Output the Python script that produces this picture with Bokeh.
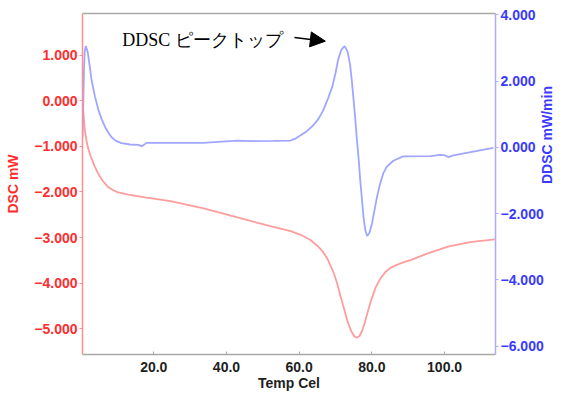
import math
from bokeh.plotting import figure
from bokeh.models import Range1d, LinearAxis, FixedTicker, Arrow, NormalHead
from bokeh.core.properties import value
from bokeh.embed import file_html
from bokeh.resources import INLINE

# ---------------- data ----------------
temp_dsc = [0.4, 0.7, 1.0, 1.5, 2.0, 2.8, 3.7, 4.7, 6.0, 7.4, 9.0, 10.2, 13.0, 17.6,
            24.6, 33.7, 43.0, 52.1, 57.7, 60.4, 63.0, 65.0, 66.5, 67.8, 69.6, 70.5,
            71.4, 72.4, 73.3, 74.3, 75.1, 75.8, 76.6, 77.3, 77.9, 78.8, 79.7, 81.0,
            82.5, 83.8, 85.2, 88.0, 90.8, 95.0, 100.9, 107.0, 113.8]
dsc_mw = [0.00, -0.30, -0.62, -0.88, -1.06, -1.25, -1.43, -1.60, -1.76, -1.89, -1.97,
          -2.01, -2.06, -2.12, -2.20, -2.36, -2.56, -2.75, -2.86, -2.94, -3.05, -3.18,
          -3.31, -3.47, -3.80, -4.02, -4.30, -4.58, -4.84, -5.05, -5.16, -5.20, -5.16,
          -5.05, -4.90, -4.65, -4.40, -4.10, -3.88, -3.75, -3.66, -3.56, -3.49, -3.36,
          -3.20, -3.10, -3.04]

temp_ddsc = [0.4, 0.6, 0.8, 1.0, 1.3, 1.8, 2.4, 2.9, 3.8, 4.8, 5.7, 6.6, 7.5, 8.4, 9.6,
             11.1, 13.5, 15.8, 16.6, 17.2, 18.0, 26.8, 33.6, 43.0, 47.4, 53.0, 57.6,
             59.0, 60.3, 62.2, 63.9, 65.4, 66.6, 68.0, 69.1, 70.0, 70.7, 71.6, 72.5,
             73.3, 74.0, 74.5, 74.9, 75.4, 75.9, 76.4, 76.8, 77.3, 77.7, 78.2, 78.7,
             79.3, 80.0, 80.7, 81.4, 82.2, 83.1, 84.1, 85.9, 88.6, 96.1, 98.8, 100.2,
             101.0, 102.4, 113.4]
ddsc_mw_min = [0.30, 1.20, 2.30, 2.90, 3.06, 2.90, 2.45, 2.03, 1.55, 1.12, 0.85, 0.62,
               0.45, 0.31, 0.20, 0.13, 0.09, 0.08, 0.04, 0.07, 0.14, 0.14, 0.14, 0.21,
               0.19, 0.20, 0.21, 0.27, 0.36, 0.50, 0.67, 0.88, 1.12, 1.50, 1.83, 2.25,
               2.64, 2.95, 3.06, 2.90, 2.50, 2.00, 1.52, 0.90, 0.21, -0.40, -1.00, -1.60,
               -2.11, -2.50, -2.67, -2.58, -2.31, -1.90, -1.50, -1.12, -0.79, -0.58,
               -0.40, -0.27, -0.26, -0.22, -0.24, -0.29, -0.24, -0.01]

x_ticks = [20, 40, 60, 80, 100]
x_tick_labels = ["20.0", "40.0", "60.0", "80.0", "100.0"]
dsc_ticks = [1, 0, -1, -2, -3, -4, -5]
dsc_tick_labels = ["1.000", "0.000", "\u22121.000", "\u22122.000", "\u22123.000",
                   "\u22124.000", "\u22125.000"]
ddsc_ticks = [4, 2, 0, -2, -4, -6]
ddsc_tick_labels = ["4.000", "2.000", "0.000", "\u22122.000", "\u22124.000", "\u22126.000"]

note_text = "DDSC ピークトップ"
note_x, note_y = 11.3, 3.24
arrow_x0, arrow_y0, arrow_x1, arrow_y1 = 58.7, 3.32, 67.2, 3.21

# ---------------- styles ----------------
RED_LINE = "#ff9c9c"
RED_TEXT = "#ff2e2e"
RED_AXIS = "#ff8f8f"
BLUE_LINE = "#a0a6ff"
BLUE_TEXT = "#3a3aff"
BLUE_AXIS = "#a9acff"
GRAY_AXIS = "#a8a8a8"
FONT = "Liberation Sans"

p = figure(width=566, height=394, output_backend="svg", toolbar_location=None,
           x_range=Range1d(0.4, 114.0), y_range=Range1d(-5.565, 1.912),
           min_border_left=82, min_border_right=71, min_border_top=13,
           min_border_bottom=40)
p.extra_y_ranges = {"ddsc": Range1d(-6.25, 4.045)}
p.outline_line_color = None
p.xgrid.visible = False
p.ygrid.visible = False
p.background_fill_color = "white"
p.border_fill_color = "white"

p.line(temp_dsc, dsc_mw, line_color=RED_LINE, line_width=1.8)
p.line(temp_ddsc, ddsc_mw_min, line_color=BLUE_LINE, line_width=1.8, y_range_name="ddsc")


def style_axis(ax, ticks, labels, line_color, text_color):
    ax.ticker = FixedTicker(ticks=ticks)
    ax.major_label_overrides = {t: l for t, l in zip(ticks, labels)}
    ax.axis_line_color = line_color
    ax.axis_line_width = 1.5
    ax.major_tick_line_color = line_color
    ax.minor_tick_line_color = None
    ax.major_label_text_color = text_color
    ax.major_label_text_font = FONT
    ax.major_label_text_font_style = "bold"
    ax.major_label_text_font_size = "14px"
    ax.axis_label_text_color = text_color
    ax.axis_label_text_font = FONT
    ax.axis_label_text_font_style = "bold"
    ax.axis_label_text_font_size = "14px"


# left (DSC)
ly = p.yaxis[0]
style_axis(ly, dsc_ticks, dsc_tick_labels, RED_AXIS, RED_TEXT)
ly.axis_label = "DSC mW"
ly.major_tick_out = 3
ly.major_tick_in = 0
ly.major_label_standoff = 2
ly.axis_label_standoff = 10

# bottom
bx = p.xaxis[0]
style_axis(bx, x_ticks, x_tick_labels, GRAY_AXIS, "#1e1e1e")
bx.axis_label = "Temp Cel"
bx.major_tick_out = 0
bx.major_tick_in = 3
bx.major_label_standoff = 7
bx.axis_label_standoff = 0

# right (DDSC)
ry = LinearAxis(y_range_name="ddsc")
style_axis(ry, ddsc_ticks, ddsc_tick_labels, BLUE_AXIS, BLUE_TEXT)
ry.axis_label = "DDSC mW/min"
ry.major_tick_out = 3
ry.major_tick_in = 0
ry.major_label_standoff = 2
ry.axis_label_standoff = 0
ry.axis_label_orientation = math.pi / 2
p.add_layout(ry, "right")

# top border
top = LinearAxis(ticker=FixedTicker(ticks=[]), axis_line_color=GRAY_AXIS,
                 axis_line_width=1.5, major_tick_out=0, major_tick_in=0,
                 minor_tick_line_color=None, major_label_standoff=0,
                 major_label_text_font_size="0px")
p.add_layout(top, "above")

# annotation
p.text(x=[note_x], y=[note_y], text=[note_text], y_range_name="ddsc",
       text_font=value("Liberation Serif"), text_font_size="18px",
       text_baseline="middle", text_align="left", text_color="black")
p.add_layout(Arrow(end=NormalHead(size=15, fill_color="black", line_color="black"),
                   x_start=arrow_x0, y_start=arrow_y0, x_end=arrow_x1, y_end=arrow_y1,
                   y_range_name="ddsc", line_color="black", line_width=1.5))

open("out.html", "w").write(file_html(p, INLINE))
